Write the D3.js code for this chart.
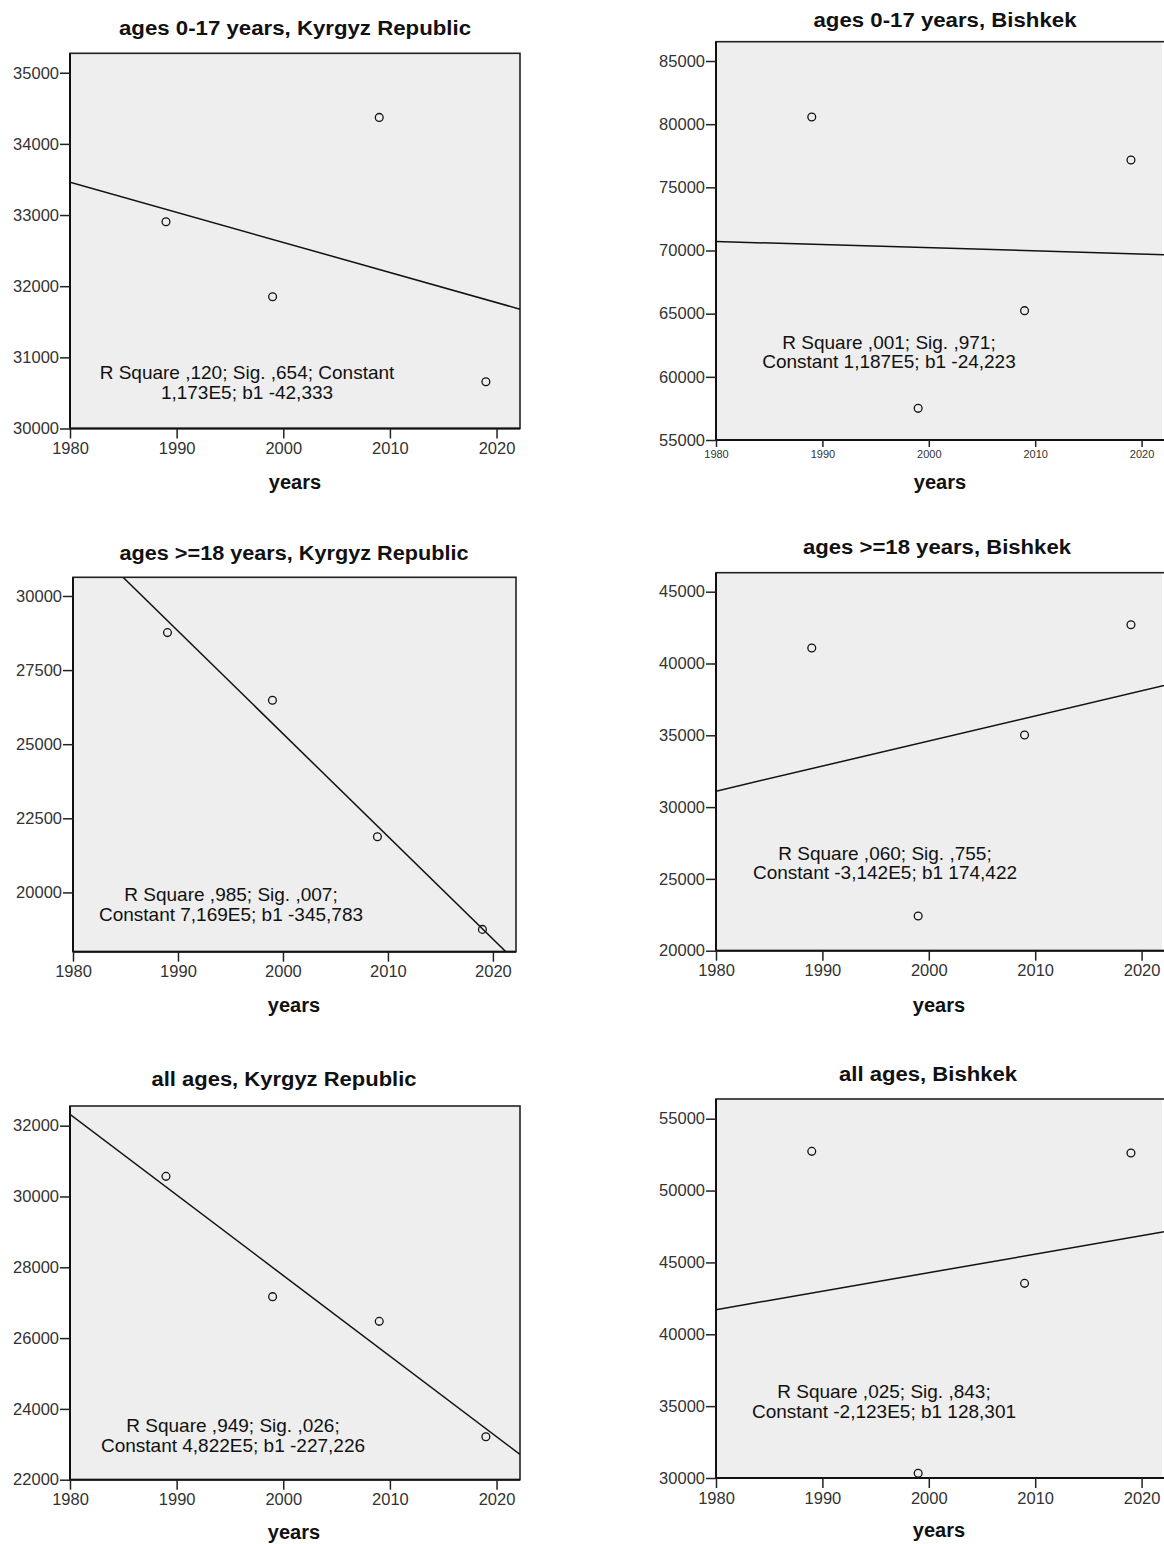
<!DOCTYPE html>
<html>
<head>
<meta charset="utf-8">
<script src="https://cdn.jsdelivr.net/npm/d3@7"></script>
<style>
  html, body { margin: 0; padding: 0; background: #fff; }
  svg { display: block; font-family: Arial, "Liberation Sans", sans-serif; }
</style>
</head>
<body>
<svg id="chart" width="1164" height="1544"></svg>
<script>
// ---------- DATA ----------
const years = [1989, 1999, 2009, 2019];

const titles = [
  "ages 0-17 years, Kyrgyz Republic",
  "ages 0-17 years, Bishkek",
  "ages >=18 years, Kyrgyz Republic",
  "ages >=18 years, Bishkek",
  "all ages, Kyrgyz Republic",
  "all ages, Bishkek"
];

const kyrgyz0to17 = [32905, 31851, 34372, 30656];
const bishkek0to17 = [80567, 57507, 65237, 77164];
const kyrgyz18plus = [28764, 26483, 21876, 18753];
const bishkek18plus = [41077, 22416, 35020, 42702];
const kyrgyzAll = [30569, 27170, 26473, 23215];
const bishkekAll = [52727, 30326, 43544, 52611];

const annotations = [
  ["R Square ,120; Sig. ,654; Constant", "1,173E5; b1 -42,333"],
  ["R Square ,001; Sig. ,971;", "Constant 1,187E5; b1 -24,223"],
  ["R Square ,985; Sig. ,007;", "Constant 7,169E5; b1 -345,783"],
  ["R Square ,060; Sig. ,755;", "Constant -3,142E5; b1 174,422"],
  ["R Square ,949; Sig. ,026;", "Constant 4,822E5; b1 -227,226"],
  ["R Square ,025; Sig. ,843;", "Constant -2,123E5; b1 128,301"]
];

const xTicks = [1980, 1990, 2000, 2010, 2020];
const xDomain = [1980, 2022.2];

const yTicks0to17K = [30000, 31000, 32000, 33000, 34000, 35000];
const yTicks0to17B = [55000, 60000, 65000, 70000, 75000, 80000, 85000];
const yTicks18K = [20000, 22500, 25000, 27500, 30000];
const yTicks18B = [20000, 25000, 30000, 35000, 40000, 45000];
const yTicksAllK = [22000, 24000, 26000, 28000, 30000, 32000];
const yTicksAllB = [30000, 35000, 40000, 45000, 50000, 55000];

const yDomain0to17K = [30000, 35273];
const yDomain0to17B = [55000, 86528];
const yDomain18K = [18000, 30630];
const yDomain18B = [20000, 46323];
const yDomainAllK = [22000, 32556];
const yDomainAllB = [30000, 56371];

const xLabel = "years";

// ---------- LAYOUT ----------
const layout = [
  { left: 70,  right: 520,  top: 53.3,  bottom: 428.5, titleX: 295, titleY: 28,   titleW: 352, xLabX: 295, xLabY: 482,  annX: 247, annY: [372.3, 392.7], xFont: 16.5 },
  { left: 716, right: 1165, top: 41.7,  bottom: 440,   titleX: 945, titleY: 20,   titleW: 263, xLabX: 940, xLabY: 482,  annX: 889, annY: [342.3, 361.5], xFont: 11 },
  { left: 73,  right: 516,  top: 577.3, bottom: 951.7, titleX: 294, titleY: 553,  titleW: 349, xLabX: 294, xLabY: 1005, annX: 231, annY: [894, 914],     xFont: 16.5 },
  { left: 716, right: 1165, top: 572.7, bottom: 950.7, titleX: 937, titleY: 547,  titleW: 268, xLabX: 939, xLabY: 1005, annX: 885, annY: [853.3, 872.3], xFont: 16.5 },
  { left: 70,  right: 520,  top: 1106,  bottom: 1479.7,titleX: 284, titleY: 1079, titleW: 265, xLabX: 294, xLabY: 1532, annX: 233, annY: [1425.6, 1445], xFont: 16.5 },
  { left: 716, right: 1165, top: 1099,  bottom: 1478,  titleX: 928, titleY: 1074, titleW: 178, xLabX: 939, xLabY: 1530, annX: 884, annY: [1391.6, 1411], xFont: 16.5 }
];

const seriesList = [kyrgyz0to17, bishkek0to17, kyrgyz18plus, bishkek18plus, kyrgyzAll, bishkekAll];
const yTickList = [yTicks0to17K, yTicks0to17B, yTicks18K, yTicks18B, yTicksAllK, yTicksAllB];
const yDomainList = [yDomain0to17K, yDomain0to17B, yDomain18K, yDomain18B, yDomainAllK, yDomainAllB];

// ---------- DRAW ----------
const svg = d3.select("#chart");

function linFit(xs, ys) {
  const mx = d3.mean(xs), my = d3.mean(ys);
  let sxy = 0, sxx = 0;
  xs.forEach((x, i) => { sxy += (x - mx) * (ys[i] - my); sxx += (x - mx) * (x - mx); });
  const b1 = sxy / sxx;
  return { b0: my - b1 * mx, b1 };
}

seriesList.forEach((vals, i) => {
  const L = layout[i];
  const g = svg.append("g");
  const x = d3.scaleLinear().domain(xDomain).range([L.left, L.right]);
  const y = d3.scaleLinear().domain(yDomainList[i]).range([L.bottom, L.top]);

  const clipId = "clip" + i;
  svg.append("clipPath").attr("id", clipId)
    .append("rect").attr("x", L.left).attr("y", L.top)
    .attr("width", L.right - L.left).attr("height", L.bottom - L.top);

  // background
  g.append("rect")
    .attr("x", L.left).attr("y", L.top)
    .attr("width", Math.min(L.right, 1162) - L.left).attr("height", L.bottom - L.top)
    .attr("fill", "#eeeeee");

  // frame
  g.append("rect")
    .attr("x", L.left).attr("y", L.top)
    .attr("width", L.right - L.left).attr("height", L.bottom - L.top)
    .attr("fill", "none").attr("stroke", "#222").attr("stroke-width", 1.6);

  // regression line
  const fit = linFit(years, vals);
  const line = d3.line().x(d => x(d)).y(d => y(fit.b0 + fit.b1 * d));
  g.append("path")
    .datum(xDomain)
    .attr("d", line)
    .attr("clip-path", `url(#${clipId})`)
    .attr("fill", "none").attr("stroke", "#111").attr("stroke-width", 1.5);

  // points
  g.selectAll("circle.pt").data(years.map((yr, k) => [yr, vals[k]]))
    .join("circle").attr("class", "pt")
    .attr("cx", d => x(d[0])).attr("cy", d => y(d[1]))
    .attr("r", 3.9)
    .attr("fill", "none").attr("stroke", "#111").attr("stroke-width", 1.3);

  // y axis
  const yAxis = g.append("g")
    .attr("transform", `translate(${L.left},0)`)
    .call(d3.axisLeft(y).tickValues(yTickList[i]).tickSize(10).tickPadding(1).tickFormat(d3.format("d")));
  yAxis.select(".domain").attr("stroke", "#111").attr("stroke-width", 2)
    .attr("d", `M0,${L.top}V${L.bottom}`);
  yAxis.selectAll(".tick line").attr("stroke", "#222").attr("stroke-width", 1.5);
  yAxis.selectAll(".tick text").attr("font-size", 16.5).attr("fill", "#333")
    .attr("font-family", "Arial, 'Liberation Sans', sans-serif");

  // x axis
  const xAxis = g.append("g")
    .attr("transform", `translate(0,${L.bottom})`)
    .call(d3.axisBottom(x).tickValues(xTicks).tickSize(L.xFont < 14 ? 7 : 10).tickPadding(L.xFont < 14 ? 3 : 4).tickFormat(d3.format("d")));
  xAxis.select(".domain").attr("stroke", "#111").attr("stroke-width", 2)
    .attr("d", `M${L.left},0H${L.right}`);
  xAxis.selectAll(".tick line").attr("stroke", "#222").attr("stroke-width", 1.5);
  xAxis.selectAll(".tick text").attr("font-size", L.xFont).attr("fill", "#333")
    .attr("font-family", "Arial, 'Liberation Sans', sans-serif");

  // title
  g.append("text")
    .attr("x", L.titleX).attr("y", L.titleY)
    .attr("text-anchor", "middle").attr("dominant-baseline", "central")
    .attr("font-size", 20).attr("font-weight", "bold").attr("fill", "#111")
    .attr("textLength", L.titleW).attr("lengthAdjust", "spacingAndGlyphs")
    .text(titles[i]);

  // x label
  g.append("text")
    .attr("x", L.xLabX).attr("y", L.xLabY)
    .attr("text-anchor", "middle").attr("dominant-baseline", "central")
    .attr("font-size", 20).attr("font-weight", "bold").attr("fill", "#111")
    .text(xLabel);

  // annotation
  annotations[i].forEach((t, k) => {
    g.append("text")
      .attr("x", L.annX).attr("y", L.annY[k])
      .attr("text-anchor", "middle").attr("dominant-baseline", "central")
      .attr("font-size", 19).attr("fill", "#111")
      .text(t);
  });
});
</script>
</body>
</html>
